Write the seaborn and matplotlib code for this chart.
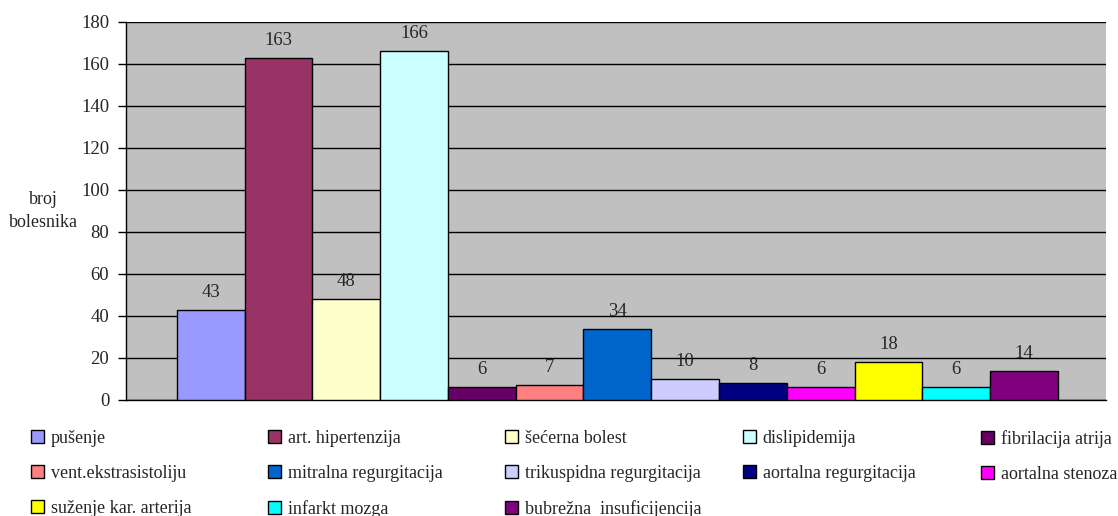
import matplotlib
matplotlib.use("Agg")
import matplotlib.pyplot as plt
import matplotlib.patches as mpatches
import pandas as pd
import seaborn as sns

# Data
categories = ["pušenje", "art. hipertenzija", "šećerna bolest", "dislipidemija",
              "fibrilacija atrija", "vent.ekstrasistoliju", "mitralna regurgitacija",
              "trikuspidna regurgitacija", "aortalna regurgitacija", "aortalna stenoza",
              "suženje kar. arterija", "infarkt mozga", "bubrežna  insuficijencija"]
counts = [43, 163, 48, 166, 6, 7, 34, 10, 8, 6, 18, 6, 14]
colors = ["#9999FF", "#993366", "#FFFFCC", "#CCFFFF", "#660066", "#FF8080", "#0066CC",
          "#CCCCFF", "#000080", "#FF00FF", "#FFFF00", "#00FFFF", "#800080"]
y_ticks = [0, 20, 40, 60, 80, 100, 120, 140, 160, 180]

df = pd.DataFrame({"bolest": categories, "broj": counts})

sns.set_style("white")
plt.rcParams["font.family"] = ["Liberation Serif", "DejaVu Serif"]

fig = plt.figure(figsize=(11.18, 5.16), dpi=100)
ax = fig.add_axes([126 / 1118, 1 - 400 / 516, 980 / 1118, 378 / 516])
ax.set_facecolor("#C0C0C0")

sns.barplot(data=df, x="bolest", y="broj", hue="bolest", palette=colors, saturation=1,
            width=1, edgecolor="black", linewidth=1, legend=False, ax=ax, zorder=3)

# value labels above the bars
for cont in ax.containers:
    ax.bar_label(cont, padding=6.5, fontsize=13.5)

ax.set_xlim(-0.5 - 0.75, len(categories) - 0.5 + 0.71)
ax.set_ylim(0, 180)
ax.set_yticks(y_ticks)
ax.set_xticks([])
ax.set_xlabel("")
ax.yaxis.grid(True, color="black", linewidth=1)
ax.set_axisbelow(True)
ax.tick_params(axis="y", direction="out", length=6, width=1, color="black",
               labelsize=13.5, pad=6, left=True)
for s in ["top", "right"]:
    ax.spines[s].set_visible(False)
for s in ["left", "bottom"]:
    ax.spines[s].set_color("black")
    ax.spines[s].set_linewidth(1)

ax.set_ylabel("broj\nbolesnika", rotation=0, fontsize=13, ha="center", va="center",
              linespacing=1.5)
ax.yaxis.set_label_coords(-0.084, 0.5)

# legend: 5 columns, filled row by row
handles = [mpatches.Patch(facecolor=c, edgecolor="black", linewidth=1) for c in colors]
col_x = [31, 268, 505, 743, 981]
for j, x in enumerate(col_x):
    idx = list(range(j, len(categories), 5))
    fig.legend([handles[i] for i in idx], [categories[i] for i in idx],
               loc="upper left", bbox_to_anchor=(x / 1118, 1 - 430 / 516),
               frameon=False, fontsize=13, handlelength=0.7, handleheight=0.7,
               handletextpad=0.4, labelspacing=1.0, borderpad=0, borderaxespad=0)

plt.savefig("out.png", dpi=100)
